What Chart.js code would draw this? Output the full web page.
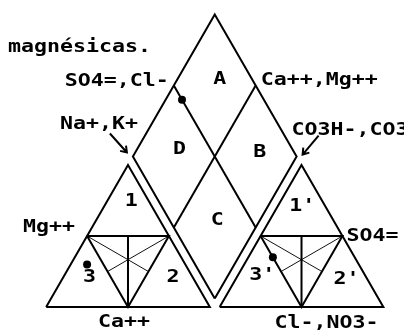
<!DOCTYPE html>
<html>
<head>
<meta charset="utf-8">
<script src="https://cdn.jsdelivr.net/npm/chart.js@4"></script>
<style>
  html, body { margin: 0; padding: 0; background: #fff; }
  #wrap { width: 404px; height: 333px; position: relative; }
</style>
</head>
<body>
<div id="wrap"><canvas id="piper"></canvas></div>
<script>
// sample analysis (% meq)
const sampleNames = ["Muestra"];
const caPct = [60];
const mgPct = [30];
const naKPct = [10];
const hco3Pct = [50];
const so4Pct = [35];
const clPct = [15];

// text of the diagram
const cationRegionLabels = ["1", "2", "3"];
const anionRegionLabels = ["1'", "2'", "3'"];
const diamondRegionLabels = ["A", "B", "C", "D"];

const H = Math.sqrt(3) / 2;
const GAP = 0.06;

// ternary -> plane (triangle side = 1)
function cationXY(ca, mg, nak) {
  let t = ca + mg + nak;
  return { x: (nak + mg / 2) / t, y: (mg / t) * H };
}
function anionXY(hco3, so4, cl) {
  let t = hco3 + so4 + cl;
  return { x: 1 + GAP + (cl + so4 / 2) / t, y: (so4 / t) * H };
}
function diamondXY(caMg, so4Cl) {
  return { x: 1 + GAP / 2 + (so4Cl - caMg) / 2, y: GAP * H + (caMg + so4Cl) * H };
}

// frame of the diagram, as compositions
const triFrame = [[100, 0, 0], [0, 0, 100], [0, 100, 0], [100, 0, 0]];
const innerTri = [[50, 50, 0], [0, 50, 50], [50, 0, 50], [50, 50, 0]];
const innerAxis = [[25, 50, 25], [50, 0, 50]];
const medianA = [[50, 50, 0], [25, 25, 50]];
const medianB = [[0, 50, 50], [50, 25, 25]];
const diamondFrame = [[0, 0], [1, 0], [1, 1], [0, 1], [0, 0]];
const diamondMid1 = [[0.5, 0], [0.5, 1]];
const diamondMid2 = [[0, 0.5], [1, 0.5]];

function lineSet(points, width, color) {
  return {
    data: points,
    showLine: true,
    borderColor: color || "#000",
    borderWidth: width,
    pointRadius: 0,
    borderJoinStyle: "miter",
    clip: false,
  };
}

const cat = (c) => cationXY(c[0], c[1], c[2]);
const an = (c) => anionXY(c[0], c[1], c[2]);
const dia = (c) => diamondXY(c[0], c[1]);

let datasets = [
  lineSet(triFrame.map(cat), 2),
  lineSet(innerTri.map(cat), 2),
  lineSet(innerAxis.map(cat), 2),
  lineSet(medianA.map(cat), 1, "#111"),
  lineSet(medianB.map(cat), 1, "#111"),
  lineSet(triFrame.map(an), 2),
  lineSet(innerTri.map(an), 2),
  lineSet(innerAxis.map(an), 2),
  lineSet(medianA.map(an), 1, "#111"),
  lineSet(medianB.map(an), 1, "#111"),
  lineSet(diamondFrame.map(dia), 2),
  lineSet(diamondMid1.map(dia), 2),
  lineSet(diamondMid2.map(dia), 2),
];

let cationPts = sampleNames.map((n, i) => cationXY(caPct[i], mgPct[i], naKPct[i]));
let anionPts = sampleNames.map((n, i) => anionXY(hco3Pct[i], so4Pct[i], clPct[i]));
let diamondPts = sampleNames.map((n, i) =>
  diamondXY((caPct[i] + mgPct[i]) / 100, (so4Pct[i] + clPct[i]) / 100)
);
[cationPts, anionPts, diamondPts].forEach((pts) => {
  datasets.push({
    data: pts,
    showLine: false,
    pointRadius: 4,
    pointBackgroundColor: "#000",
    pointBorderColor: "#000",
    pointBorderWidth: 0,
    clip: false,
  });
});

// label placements: anchor (in plot units) + pixel nudge
const regionTexts = [
  { text: cationRegionLabels[0], at: cationXY(11, 74, 15) },
  { text: cationRegionLabels[1], at: cationXY(12, 21, 67) },
  { text: cationRegionLabels[2], at: cationXY(63, 21, 16) },
  { text: anionRegionLabels[0], at: anionXY(14, 71, 15) },
  { text: anionRegionLabels[1], at: anionXY(13, 19, 68) },
  { text: anionRegionLabels[2], at: anionXY(63, 22, 15) },
  { text: diamondRegionLabels[0], at: diamondXY(0.74, 0.8) },
  { text: diamondRegionLabels[1], at: diamondXY(0.24, 0.79) },
  { text: diamondRegionLabels[2], at: diamondXY(0.26, 0.29) },
  { text: diamondRegionLabels[3], at: diamondXY(0.74, 0.31) },
];
const axisTexts = [
  { text: "SO4=,Cl-", at: diamondXY(1, 0.5), dx: -5, dy: 0, align: "right" },
  { text: "Ca++,Mg++", at: diamondXY(0.5, 1), dx: 5, dy: -1, align: "left" },
  { text: "Na+,K+", at: diamondXY(1, 0), dx: -34, dy: -28, align: "center" },
  { text: "CO3H-,CO3=", at: diamondXY(0, 1), dx: -5, dy: -22, align: "left" },
  { text: "Mg++", at: cationXY(50, 50, 0), dx: -12, dy: -4, align: "right" },
  { text: "Ca++", at: cationXY(50, 0, 50), dx: -4, dy: 20, align: "center" },
  { text: "SO4=", at: anionXY(0, 50, 50), dx: 4, dy: 5, align: "left" },
  { text: "Cl-,NO3-", at: anionXY(50, 0, 50), dx: -27, dy: 21, align: "left" },
];
const arrows = [
  { at: diamondXY(1, 0), from: [-23, -23], to: [-6, -4] },
  { at: diamondXY(0, 1), from: [22, -21], to: [6, -2] },
];

function drawWide(ctx, text, x, y, align, baseline) {
  ctx.save();
  ctx.translate(x, y);
  ctx.scale(1.27, 1);
  ctx.textAlign = align;
  ctx.textBaseline = baseline;
  ctx.fillText(text, 0, 0);
  ctx.restore();
}

const labelPlugin = {
  id: "piperLabels",
  afterDraw(chart) {
    const ctx = chart.ctx;
    const sx = chart.scales.x;
    const sy = chart.scales.y;
    const px = (p) => [sx.getPixelForValue(p.x), sy.getPixelForValue(p.y)];
    ctx.save();
    ctx.fillStyle = "#000";
    ctx.strokeStyle = "#000";
    ctx.font = "bold 17px 'DejaVu Sans Mono'";

    drawWide(ctx, "magnésicas.", chart.chartArea.left + 4, chart.chartArea.top + 48, "left", "alphabetic");

    regionTexts.forEach((r) => {
      let [x, y] = px(r.at);
      drawWide(ctx, r.text, x, y, "center", "middle");
    });
    axisTexts.forEach((t) => {
      let [x, y] = px(t.at);
      drawWide(ctx, t.text, x + t.dx, y + t.dy, t.align, "alphabetic");
    });

    ctx.lineWidth = 2;
    arrows.forEach((a) => {
      let [x, y] = px(a.at);
      let x0 = x + a.from[0], y0 = y + a.from[1];
      let x1 = x + a.to[0], y1 = y + a.to[1];
      let ang = Math.atan2(y1 - y0, x1 - x0);
      ctx.beginPath();
      ctx.moveTo(x0, y0);
      ctx.lineTo(x1, y1);
      ctx.moveTo(x1 - 7 * Math.cos(ang - 0.6), y1 - 7 * Math.sin(ang - 0.6));
      ctx.lineTo(x1, y1);
      ctx.lineTo(x1 - 7 * Math.cos(ang + 0.6), y1 - 7 * Math.sin(ang + 0.6));
      ctx.stroke();
    });
    ctx.restore();
  },
};

// plot units -> pixels: x = 43 + 167*u, y = 310.5 - 168*v
new Chart(document.getElementById("piper"), {
  type: "scatter",
  data: { datasets: datasets },
  options: {
    responsive: true,
    maintainAspectRatio: false,
    animation: false,
    layout: { padding: 0 },
    plugins: { legend: { display: false }, tooltip: { enabled: false } },
    scales: {
      x: { type: "linear", min: -43 / 167, max: (404 - 43) / 167, display: false },
      y: { type: "linear", min: -(333 - 310.5) / 168, max: 310.5 / 168, display: false },
    },
  },
  plugins: [labelPlugin],
});
</script>
</body>
</html>
